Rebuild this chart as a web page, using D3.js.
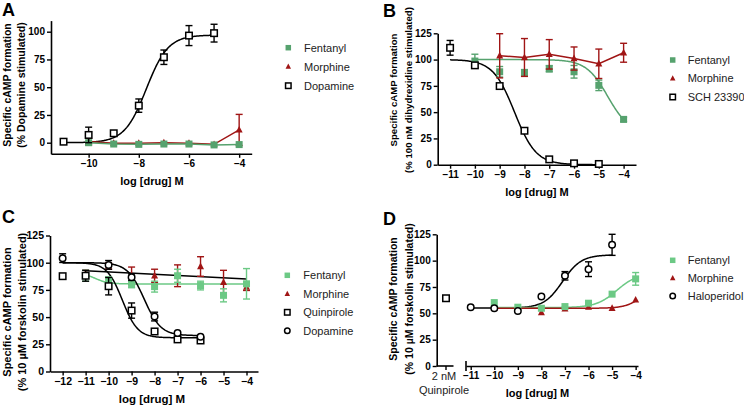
<!DOCTYPE html>
<html><head><meta charset="utf-8">
<script src="https://cdn.jsdelivr.net/npm/d3@7"></script>
<style>body{margin:0;background:#fff}svg{display:block}text{font-family:"Liberation Sans",Arial,sans-serif}</style>
</head><body>
<svg id="c" width="744" height="407"></svg>
<script>
// ---------- DATA ----------
const seriesNames = ["Fentanyl","Morphine","Dopamine","SCH 23390","Quinpirole","Haloperidol"];
// Panel A
const A_xTicks = [-10,-8,-6,-4];
const A_yTicks = [0,25,50,75,100];
const A_doseDopamine = [-11,-10,-9,-8,-7,-6,-5];
const A_dopamine = [0.9,7,8.5,33.4,77,96.5,98.7];
const A_dopamineErr = [0,7,1,6,6.5,9,8];
const A_doseOpioid = [-10,-9,-8,-7,-6,-5,-4];
const A_fentanyl = [0,-1.2,-1.5,-1.2,-1.2,-2,-1.7];
const A_fentanylErr = [0,0,0,0,0,0,0];
const A_morphine = [1,-0.5,-0.5,0,-0.5,-1.5,11.5];
const A_morphineErr = [3,0,0,0,0,0,14];
const A_dopamineFit = [0,97,-7.7,1,-11,-5]; // bottom, top, logEC50, hill, from, to
// Panel B
const B_xTicks = [-11,-10,-9,-8,-7,-6,-5,-4];
const B_yTicks = [0,25,50,75,100,125];
const B_doseSCH = [-11,-10,-9,-8,-7,-6,-5];
const B_sch = [111.2,94.5,74.8,32.3,5.1,1.3,0.7];
const B_schErr = [7,2,0,0,0,0,0];
const B_doseFentanyl = [-10,-9,-8,-7,-6,-5,-4];
const B_fentanyl = [98.6,88.4,87.5,91.3,88.4,75.5,43.1];
const B_fentanylErr = [6.5,5,3,3,6,5,2];
const B_doseMorphine = [-9,-8,-7,-6,-5,-4];
const B_morphine = [103.6,102,105,101,96,106.5];
const B_morphineErr = [21,18,14,11,14,9];
const B_schFit = [0,100,-8.4,-1,-11,-5];
const B_fentanylFit = [30,100,-4.64,-1,-10,-4];
// Panel C
const C_xTicks = [-12,-11,-10,-9,-8,-7,-6,-5,-4];
const C_yTicks = [0,25,50,75,100,125];
const C_doseFentanyl = [-11,-10,-9,-8,-7,-6,-5,-4];
const C_fentanyl = [88,83,80,78,88,79,70,80.6];
const C_fentanylErr = [5,4,3,5,6,4,6,14];
const C_doseMorphine = [-11,-10,-9,-8,-7,-6,-5,-4];
const C_morphine = [90,97,88,88,88,96.5,82,77.5];
const C_morphineErr = [3,3,8,6,10,9,11,3];
const C_doseQuinpirole = [-12,-11,-10,-9,-8,-7,-6];
const C_quinpirole = [87.6,88,78.4,56,36.8,29.5,28.5];
const C_quinpiroleErr = [0,5,8,7,0,0,0];
const C_doseDopamine = [-12,-10,-9,-8,-7,-6];
const C_dopamine = [104.2,98,86.7,50.5,35.5,32];
const C_dopamineErr = [4,4,3,4,0,0];
const C_fentanylFit = [80.5,91,-10.6,-1.5,-11,-4];
const C_morphineLine = [[-11,92.5],[-4,85]];
const C_quinpiroleFit = [31,100,-9.4,-1.3,-12,-6];
const C_dopamineFit = [33,100,-8.45,-1.2,-12,-6];
// Panel D
const D_xTicks = [-11,-10,-9,-8,-7,-6,-5,-4];
const D_yTicks = [0,25,50,75,100,125];
const D_refLabel = ["2 nM","Quinpirole"];
const D_quinpiroleRef = 64.3;
const D_doseHaloperidol = [-11,-10,-9,-8,-7,-6,-5];
const D_haloperidol = [55.8,54.8,52.3,65.9,85.6,91.9,115];
const D_haloperidolErr = [0,0,0,0,4,7,10];
const D_doseOpioid = [-10,-9,-8,-7,-6,-5,-4];
const D_fentanyl = [60.2,55.8,54.8,56.4,59.6,68.2,82.7];
const D_fentanylErr = [0,0,0,0,0,0,6];
const D_morphine = [55,55,50.7,54.2,55.8,54.8,62.7];
const D_morphineErr = [0,0,0,0,0,0,0];
const D_haloperidolFit = [55,105.5,-7.1,1.1,-11,-5];
const D_fentanylFit = [55.5,88,-4.8,1,-10,-4];
const D_morphineFit = [54.8,80,-3.65,1.2,-10,-4];

// ---------- STYLE ----------
const GREEN_AB = "#56a26e", GREEN_CD = "#6cc985", RED = "#a01515", BLACK = "#000";
const FONT = '"Liberation Sans", Arial, sans-serif';
const svg = d3.select("#c");

function sig(p){ const [b,t,l,h]=p; return x => b + (t-b)/(1+Math.pow(10,h*(l-x))); }

function marker(g, type, x, y, color, s){
  if(type==="sq"){ g.append("rect").attr("x",x-s/2).attr("y",y-s/2).attr("width",s).attr("height",s).attr("fill",color); }
  else if(type==="osq"){ g.append("rect").attr("x",x-s/2+0.75).attr("y",y-s/2+0.75).attr("width",s-1.5).attr("height",s-1.5).attr("fill","#fff").attr("stroke",color).attr("stroke-width",1.5); }
  else if(type==="tri"){ const h=s*0.95; g.append("path").attr("d",`M${x},${y-h*0.6}L${x+s/2},${y+h*0.4}L${x-s/2},${y+h*0.4}Z`).attr("fill",color); }
  else if(type==="oci"){ g.append("circle").attr("cx",x).attr("cy",y).attr("r",s/2-0.75).attr("fill","#fff").attr("stroke",color).attr("stroke-width",1.5); }
}

function panel(cfg){
  const g = svg.append("g");
  const x = d3.scaleLinear().domain(cfg.xDomain).range(cfg.xRange);
  const y = d3.scaleLinear().domain(cfg.yDomain).range(cfg.yRange);
  const fs = cfg.tickFont;
  const ya = g.append("g").attr("transform",`translate(${cfg.yAxisX},0)`)
    .call(d3.axisLeft(y).tickValues(cfg.yTicks).tickSize(4).tickSizeOuter(0).tickPadding(2));
  const xa = g.append("g").attr("transform",`translate(0,${cfg.xAxisY})`)
    .call(d3.axisBottom(x).tickValues(cfg.xTicks).tickSize(4).tickSizeOuter(0).tickPadding(2));
  [ya,xa].forEach(a=>{
    a.select(".domain").attr("stroke","#000").attr("stroke-width",1.6);
    a.selectAll(".tick line").attr("stroke","#000").attr("stroke-width",1.4);
    a.selectAll(".tick text").attr("font-family",FONT).attr("font-weight","bold").attr("font-size",fs).attr("fill","#000");
  });
  g.append("text").attr("x",cfg.letter[1]).attr("y",cfg.letter[2]).text(cfg.letter[0])
    .attr("font-family",FONT).attr("font-weight","bold").attr("font-size",18);
  cfg.yLabel.forEach((t,i)=>{
    g.append("text").attr("transform",`translate(${cfg.yLabelX[i]},${cfg.yLabelY}) rotate(-90)`)
      .attr("text-anchor","middle").attr("dy","0.35em").text(t)
      .attr("font-family",FONT).attr("font-weight","bold").attr("font-size",cfg.labelFont);
  });
  g.append("text").attr("x",cfg.xLabel[0]).attr("y",cfg.xLabel[1]).attr("text-anchor","middle").attr("dy","0.35em")
    .text("log [drug] M").attr("font-family",FONT).attr("font-weight","bold").attr("font-size",cfg.xLabelFont||11);
  const line = d3.line().x(d=>x(d[0])).y(d=>y(d[1]));
  (cfg.fits||[]).forEach(f=>{
    const fn = sig(f.p);
    const pts = d3.range(0,201).map(i=>{const xv=f.p[4]+(f.p[5]-f.p[4])*i/200; return [xv, fn(xv)];});
    g.append("path").attr("d",line(pts)).attr("fill","none").attr("stroke",f.color).attr("stroke-width",1.5);
  });
  (cfg.lines||[]).forEach(f=>{
    g.append("path").attr("d",line(f.pts)).attr("fill","none").attr("stroke",f.color).attr("stroke-width",1.5);
  });
  cfg.series.forEach(s=>{
    const pts = s.dose.map((d,i)=>[d,s.val[i]]);
    if(s.connect) g.append("path").attr("d",line(pts)).attr("fill","none").attr("stroke",s.color).attr("stroke-width",1.5);
    s.dose.forEach((d,i)=>{
      const e = s.err[i]; if(!e) return;
      const cx=x(d), y1=y(s.val[i]+e), y2=y(s.val[i]-e);
      g.append("line").attr("x1",cx).attr("x2",cx).attr("y1",y1).attr("y2",y2).attr("stroke",s.color).attr("stroke-width",1.4);
      [y1,y2].forEach(yy=>g.append("line").attr("x1",cx-3.5).attr("x2",cx+3.5).attr("y1",yy).attr("y2",yy).attr("stroke",s.color).attr("stroke-width",1.4));
    });
    s.dose.forEach((d,i)=>marker(g,s.type,x(d),y(s.val[i]),s.color,s.size||7));
  });
  cfg.legend.items.forEach((it,i)=>{
    const ly = cfg.legend.y + i*cfg.legend.dy;
    marker(g,it.type,cfg.legend.mx,ly,it.color,it.type==="osq"||it.type==="oci"?7:5.5);
    g.append("text").attr("x",cfg.legend.tx).attr("y",ly).attr("dy","0.35em").text(it.name)
      .attr("font-family",FONT).attr("font-size",cfg.legend.fs).attr("fill","#222");
  });
  return {g,x,y};
}

// Panel A
panel({
  xDomain:[-11.5,-3.5], xRange:[51,251.7], yDomain:[-10,110], yRange:[153.8,20.6],
  yAxisX:51, xAxisY:153.8, xTicks:A_xTicks, yTicks:A_yTicks, tickFont:10,
  letter:["A",2,16], yLabel:["Specific cAMP formation","(% Dopamine stimulated)"], yLabelX:[7,21.5], yLabelY:85,
  labelFont:10.5, xLabelFont:11, xLabel:[152,181.5],
  fits:[{p:A_dopamineFit,color:BLACK}],
  series:[
    {dose:A_doseOpioid,val:A_morphine,err:A_morphineErr,type:"tri",color:RED,connect:true},
    {dose:A_doseOpioid,val:A_fentanyl,err:A_fentanylErr,type:"sq",color:GREEN_AB,connect:true},
    {dose:A_doseDopamine,val:A_dopamine,err:A_dopamineErr,type:"osq",color:BLACK,size:8}
  ],
  legend:{mx:288.3,tx:304,y:47.7,dy:19,fs:11,items:[
    {name:seriesNames[0],type:"sq",color:GREEN_AB},{name:seriesNames[1],type:"tri",color:RED},{name:seriesNames[2],type:"osq",color:BLACK}]}
});
// Panel B
panel({
  xDomain:[-11.5,-3.5], xRange:[437.7,636], yDomain:[0,125], yRange:[164.7,33.3],
  yAxisX:437.7, xAxisY:164.7, xTicks:B_xTicks, yTicks:B_yTicks, tickFont:10,
  letter:["B",383,17], yLabel:["Specific cAMP formation","(% 100 nM dihydrexidine stimulated)"], yLabelX:[393.5,409], yLabelY:90,
  labelFont:9.6, xLabelFont:11, xLabel:[537,191.7],
  fits:[{p:B_schFit,color:BLACK},{p:B_fentanylFit,color:GREEN_AB}],
  series:[
    {dose:B_doseFentanyl,val:B_fentanyl,err:B_fentanylErr,type:"sq",color:GREEN_AB},
    {dose:B_doseMorphine,val:B_morphine,err:B_morphineErr,type:"tri",color:RED,connect:true},
    {dose:B_doseSCH,val:B_sch,err:B_schErr,type:"osq",color:BLACK,size:8}
  ],
  legend:{mx:672.7,tx:687.7,y:60,dy:18.5,fs:11,items:[
    {name:seriesNames[0],type:"sq",color:GREEN_AB},{name:seriesNames[1],type:"tri",color:RED},{name:seriesNames[3],type:"osq",color:BLACK}]}
});
// Panel C
panel({
  xDomain:[-12.55,-3.5], xRange:[50,258], yDomain:[0,125], yRange:[371.5,235.5],
  yAxisX:50, xAxisY:371.5, xTicks:C_xTicks, yTicks:C_yTicks, tickFont:10.5,
  letter:["C",2,223], yLabel:["Specific cAMP formation","(% 10 \u00b5M forskolin stimulated)"], yLabelX:[7,22], yLabelY:312,
  labelFont:11, xLabelFont:11.5, xLabel:[152,399],
  fits:[{p:C_fentanylFit,color:GREEN_CD},{p:C_quinpiroleFit,color:BLACK},{p:C_dopamineFit,color:BLACK}],
  lines:[{pts:C_morphineLine,color:BLACK}],
  series:[
    {dose:C_doseMorphine,val:C_morphine,err:C_morphineErr,type:"tri",color:RED},
    {dose:C_doseFentanyl,val:C_fentanyl,err:C_fentanylErr,type:"sq",color:GREEN_CD},
    {dose:C_doseQuinpirole,val:C_quinpirole,err:C_quinpiroleErr,type:"osq",color:BLACK,size:8},
    {dose:C_doseDopamine,val:C_dopamine,err:C_dopamineErr,type:"oci",color:BLACK,size:8}
  ],
  legend:{mx:287.3,tx:303.3,y:275.3,dy:18.5,fs:11,items:[
    {name:seriesNames[0],type:"sq",color:GREEN_CD},{name:seriesNames[1],type:"tri",color:RED},
    {name:seriesNames[4],type:"osq",color:BLACK},{name:seriesNames[2],type:"oci",color:BLACK}]}
});
// Panel D
const pD = panel({
  xDomain:[-11.2,-3.9], xRange:[466,638], yDomain:[0,125], yRange:[366,234.3],
  yAxisX:436.7, xAxisY:366, xTicks:D_xTicks, yTicks:D_yTicks, tickFont:10,
  letter:["D",383,225], yLabel:["Specific cAMP formation","(% 10 \u00b5M forskolin stimulated)"], yLabelX:[393.5,409], yLabelY:299,
  labelFont:10.5, xLabelFont:11, xLabel:[537.5,392.7],
  fits:[{p:D_haloperidolFit,color:BLACK},{p:D_fentanylFit,color:GREEN_CD},{p:D_morphineFit,color:RED}],
  series:[
    {dose:D_doseOpioid,val:D_morphine,err:D_morphineErr,type:"tri",color:RED},
    {dose:D_doseOpioid,val:D_fentanyl,err:D_fentanylErr,type:"sq",color:GREEN_CD},
    {dose:D_doseHaloperidol,val:D_haloperidol,err:D_haloperidolErr,type:"oci",color:BLACK,size:8}
  ],
  legend:{mx:672.7,tx:687.7,y:260.3,dy:17.8,fs:11,items:[
    {name:seriesNames[0],type:"sq",color:GREEN_CD},{name:seriesNames[1],type:"tri",color:RED},{name:seriesNames[5],type:"oci",color:BLACK}]}
});
// Panel D: reference (2 nM quinpirole) segment and axis break
(function(){
  const g = pD.g, y = pD.y;
  const refX = d3.scalePoint().domain([D_refLabel.join(" ")]).range([446,446]);
  const cx = refX(D_refLabel.join(" "));
  g.append("line").attr("x1",436.7).attr("x2",453.5).attr("y1",366).attr("y2",366).attr("stroke","#000").attr("stroke-width",1.6);
  g.append("line").attr("x1",cx).attr("x2",cx).attr("y1",366).attr("y2",370).attr("stroke","#000").attr("stroke-width",1.4);
  g.append("line").attr("x1",466).attr("x2",466).attr("y1",361).attr("y2",371).attr("stroke","#000").attr("stroke-width",1.6);
  D_refLabel.forEach((t,i)=>g.append("text").attr("x",cx-2).attr("y",376+i*14).attr("dy","0.35em").attr("text-anchor","middle")
    .text(t).attr("font-family",FONT).attr("font-size",11).attr("fill","#222"));
  marker(g,"osq",cx,y(D_quinpiroleRef),"#000",8);
})();
</script>
</body></html>
